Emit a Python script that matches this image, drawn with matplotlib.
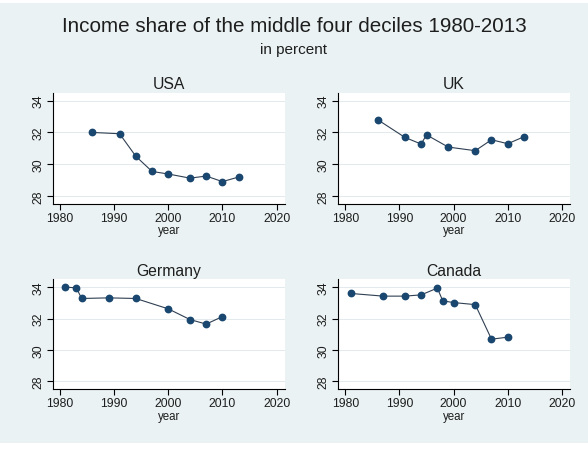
import matplotlib
matplotlib.use("Agg")
import matplotlib.pyplot as plt
from matplotlib.patches import Rectangle

plt.rcParams['font.family'] = ['Liberation Sans', 'DejaVu Sans']

# Data
usa_years = [1986, 1991, 1994, 1997, 2000, 2004, 2007, 2010, 2013]
usa_vals = [32.0, 31.92, 30.5, 29.54, 29.38, 29.12, 29.25, 28.9, 29.19]

uk_years = [1986, 1991, 1994, 1995, 1999, 2004, 2007, 2010, 2013]
uk_vals = [32.8, 31.69, 31.27, 31.85, 31.08, 30.85, 31.54, 31.29, 31.73]

de_years = [1981, 1983, 1984, 1989, 1994, 2000, 2004, 2007, 2010]
de_vals = [34.0, 33.96, 33.28, 33.32, 33.28, 32.62, 31.94, 31.65, 32.13]

ca_years = [1981, 1987, 1991, 1994, 1997, 1998, 2000, 2004, 2007, 2010]
ca_vals = [33.6, 33.43, 33.43, 33.51, 33.94, 33.13, 33.02, 32.89, 30.69, 30.82]

x_ticks = [1980, 1990, 2000, 2010, 2020]
y_ticks = [28, 30, 32, 34]

title = "Income share of the middle four deciles 1980-2013"
subtitle = "in percent"
xlabel = "year"

panels = [
    ("USA", usa_years, usa_vals),
    ("UK", uk_years, uk_vals),
    ("Germany", de_years, de_vals),
    ("Canada", ca_years, ca_vals),
]

W, H = 588, 452
fig = plt.figure(figsize=(W / 100, H / 100), dpi=100)
fig.patch.set_facecolor('white')
bg = '#eaf2f3'
fig.patches.append(Rectangle((0, (H - 444) / H), 1, (444 - 4) / H,
                             transform=fig.transFigure, facecolor=bg,
                             edgecolor='none', zorder=-10))

# axes boxes in pixel coords: (left, top, width, height)
boxes = [(52.7, 93.5, 232, 111), (338, 93.5, 232, 111),
         (52.7, 280, 232, 110), (338, 280, 232, 110)]

marker_col = '#1a476f'
line_col = '#2f3f52'
text_col = '#1e1e1e'

for (name, xs, ys), (l, t, w, h) in zip(panels, boxes):
    ax = fig.add_axes([l / W, (H - t - h) / H, w / W, h / H])
    ax.set_facecolor('white')
    ax.plot(xs, ys, color=line_col, lw=0.8, zorder=3)
    ax.plot(xs, ys, 'o', color=marker_col, ms=4.6, mec=marker_col, zorder=4)
    ax.set_xlim(1978.65, 2021.5)
    ax.set_ylim(27.52, 34.52)
    ax.set_xticks(x_ticks)
    ax.set_yticks(y_ticks)
    ax.set_yticklabels([str(v) for v in y_ticks], rotation=90, va='center')
    for v in y_ticks:
        ax.axhline(v, color='#e2eaed', lw=0.7, zorder=1)
    for s in ['top', 'right']:
        ax.spines[s].set_visible(False)
    for s in ['left', 'bottom']:
        ax.spines[s].set_color('black')
        ax.spines[s].set_linewidth(0.8)
    ax.tick_params(axis='both', length=4, width=0.8, color='black',
                   labelsize=8.8, labelcolor=text_col, pad=2)
    ax.set_xlabel(xlabel, fontsize=8.3, color=text_col, labelpad=0.3)
    ax.set_title(name, fontsize=11.3, color=text_col, pad=3)

fig.text(0.5, 1 - 27 / H, title, ha='center', va='center', fontsize=14.9, color=text_col)
fig.text(0.5, 1 - 50 / H, subtitle, ha='center', va='center', fontsize=11, color=text_col)

fig.savefig('out.png', dpi=100, facecolor=fig.get_facecolor())
